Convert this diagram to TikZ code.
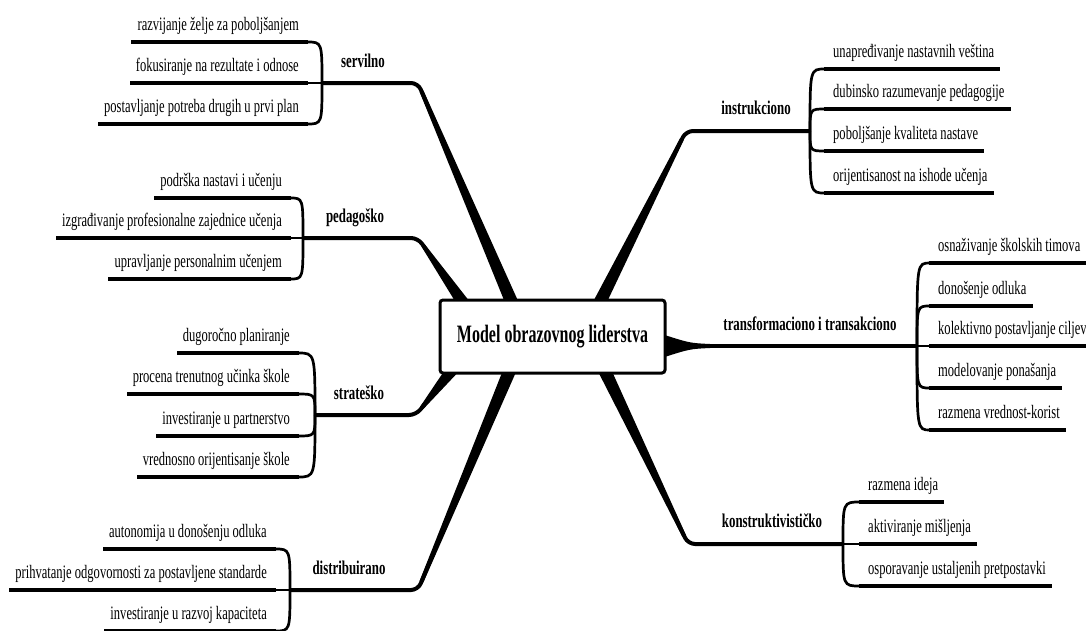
\documentclass[tikz,border=0pt]{standalone}
\usepackage{fontspec}
\setmainfont{Liberation Serif}[FakeStretch=0.66]
\newfontfamily\rootfont{Liberation Serif}[FakeStretch=0.64]
\usetikzlibrary{calc}

\pgfdeclarelayer{canvas}
\pgfdeclarelayer{bg}
\pgfsetlayers{canvas,bg,main}

\tikzset{
  leaf/.style={inner sep=0pt, font=\fontsize{19}{21}\selectfont},
  lab/.style={inner sep=0pt, font=\bfseries\fontsize{19.5}{22}\selectfont},
  rootbox/.style={draw, line width=3pt, fill=white, rounded corners=3pt,
    minimum width=225pt, minimum height=73pt, inner sep=0pt,
    font=\rootfont\bfseries\fontsize{25}{28}\selectfont},
  twig/.style={line width=4pt},
  brk/.style={line width=2.7pt},
  stem/.style={line width=4pt, rounded corners=7pt},
}

% leaves hanging to the left of a bracket
\newcommand\mmleft[5]{%
  \coordinate (#1B) at (#2,#3);
  \foreach \gy/\gtext [count=\gi] in {#5} {
    \coordinate (#1E\gi) at (#4,\gy);
    \node[leaf, anchor=base east] (#1T\gi) at (#4-8,\gy-12) {\gtext};
    \draw[brk] (#1B) .. controls (#1B |- #1E\gi) .. (#1E\gi);
    \draw[twig] ($(#1E\gi)+(1,0)$) -- ($(#1T\gi.west |- #1E\gi)+(-6,0)$);
  }
}
% leaves hanging to the right of a bracket
\newcommand\mmright[5]{%
  \coordinate (#1B) at (#2,#3);
  \foreach \gy/\gtext [count=\gi] in {#5} {
    \coordinate (#1E\gi) at (#4,\gy);
    \node[leaf, anchor=base west] (#1T\gi) at (#4+8,\gy-12) {\gtext};
    \draw[brk] (#1B) .. controls (#1B |- #1E\gi) .. (#1E\gi);
    \draw[twig] ($(#1E\gi)+(-1,0)$) -- ($(#1T\gi.east |- #1E\gi)+(6,0)$);
  }
}
% main branch: bracket -> elbow -> tapered run into the central box
\newcommand\mmbranch[3]{%
  \draw[stem] (#1) -- (#2) -- (#3);
  \coordinate (#2s) at ($(#2)!9pt!(#3)$);
  \fill ($(#2s)!2pt!90:(#3)$) -- ($(#3)!6.5pt!-90:(#2s)$)
     -- ($(#3)!6.5pt!90:(#2s)$) -- ($(#2s)!2pt!-90:(#3)$) -- cycle;
}

\begin{document}
\begin{tikzpicture}[x=1pt,y=-1pt]
\useasboundingbox (0,0) rectangle (1086,630);
\begin{pgfonlayer}{canvas}
  \fill[white] (0,0) rectangle (1086,630);
\end{pgfonlayer}
\clip (0,0) rectangle (1086,630);

\node[rootbox] (root) at (552.5,336.5) {Model obrazovnog liderstva};

% branch labels
\node[lab, anchor=base] (sv) at (363,67) {servilno};
\node[lab, anchor=base] (pg) at (355,222) {pedagoško};
\node[lab, anchor=base] (st) at (359,399) {strateško};
\node[lab, anchor=base] (ds) at (349,574) {distribuirano};
\node[lab, anchor=base] (in) at (756,114) {instrukciono};
\node[lab, anchor=base] (tf) at (810,330) {transformaciono i transakciono};
\node[lab, anchor=base] (ko) at (772,527) {konstruktivističko};

% leaves
\mmleft{sv}{322}{83}{307}{42/razvijanje želje za poboljšanjem,
  83/fokusiranje na rezultate i odnose,
  124/postavljanje potreba drugih u prvi plan}
\mmleft{pg}{303}{238}{290}{198/podrška nastavi i učenju,
  238/izgrađivanje profesionalne zajednice učenja,
  279/upravljanje personalnim učenjem}
\mmleft{st}{315}{415}{298}{353/dugoročno planiranje,
  394/procena trenutnog učinka škole,
  436/investiranje u partnerstvo,
  477/vrednosno orijentisanje škole}
\mmleft{ds}{290}{590}{275}{549/autonomija u donošenju odluka,
  590/prihvatanje odgovornosti za postavljene standarde,
  631/investiranje u razvoj kapaciteta}
\mmright{in}{810}{131}{825}{69/unapređivanje nastavnih veština,
  109/dubinsko razumevanje pedagogije,
  151/poboljšanje kvaliteta nastave,
  193/orijentisanost na ishode učenja}
\mmright{tf}{917}{346}{930}{263/osnaživanje školskih timova,
  306/donošenje odluka,
  346/kolektivno postavljanje ciljeva,
  388/modelovanje ponašanja,
  430/razmena vrednost-korist}
\mmright{ko}{843}{544}{860}{502/razmena ideja,
  544/aktiviranje mišljenja,
  586/osporavanje ustaljenih pretpostavki}

% main branches, kept beneath the central box
\begin{pgfonlayer}{bg}
  \coordinate (svK) at (418,83);
  \coordinate (pgK) at (418,238);
  \coordinate (stK) at (416,415);
  \coordinate (dsK) at (418,590);
  \coordinate (inK) at (686,131);
  \coordinate (koK) at (688,544);
  \coordinate (svR) at ($(root.center)+(-37.5,-26.5)$);
  \coordinate (pgR) at ($(root.center)+(-84.5,-26.5)$);
  \coordinate (stR) at ($(root.center)+(-96.5,28.5)$);
  \coordinate (dsR) at ($(root.center)+(-40.5,28.5)$);
  \coordinate (inR) at ($(root.center)+(43.5,-26.5)$);
  \coordinate (koR) at ($(root.center)+(49.5,28.5)$);
  \mmbranch{svB}{svK}{svR}
  \mmbranch{pgB}{pgK}{pgR}
  \mmbranch{stB}{stK}{stR}
  \mmbranch{dsB}{dsK}{dsR}
  \mmbranch{inB}{inK}{inR}
  \mmbranch{koB}{koK}{koR}
  % flared link to the right-hand branch
  \coordinate (tfR) at ($(root.east)+(-5,9.5)$);
  \coordinate (tfK) at (710,346);
  \draw[twig] (tfR) -- (tfB);
  \fill ($(tfR)+(0,-12)$) .. controls ($(tfR)+(28,-3)$) .. ($(tfK)+(0,-2)$)
     -- ($(tfK)+(0,2)$) .. controls ($(tfR)+(28,3)$) .. ($(tfR)+(0,12)$) -- cycle;
\end{pgfonlayer}
\end{tikzpicture}
\end{document}
